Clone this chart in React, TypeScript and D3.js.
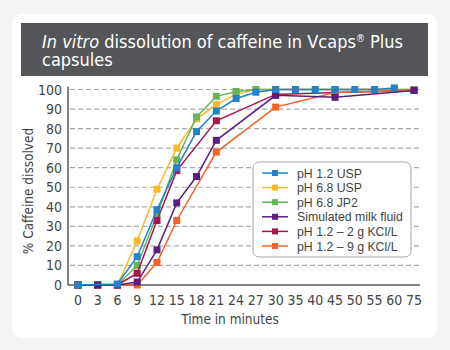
import React, { useEffect, useRef } from "react";
import * as d3 from "d3";

// x categories (time in minutes) and y ticks
const timeLabels = ["0", "3", "6", "9", "12", "15", "18", "21", "24", "27", "30", "35", "40", "45", "50", "55", "60", "75"];
const yTicks = [0, 10, 20, 30, 40, 50, 60, 70, 80, 90, 100];

const seriesNames = ["pH 1.2 USP", "pH 6.8 USP", "pH 6.8 JP2", "Simulated milk fluid", "pH 1.2 – 2 g KCl/L", "pH 1.2 – 9 g KCl/L"];
const seriesColors = ["#2382cc", "#fdb827", "#64b65a", "#5a1e82", "#a6154c", "#f26326"];

// [time, % dissolved]
const ph12Usp: [string, number][] = [["0", 0], ["6", 0.5], ["9", 14.5], ["12", 38.5], ["15", 60], ["18", 78.5], ["21", 89], ["24", 95.4], ["27", 98.6], ["30", 100], ["35", 100], ["40", 100], ["45", 100], ["50", 100], ["55", 100], ["60", 100.8]];
const ph68Usp: [string, number][] = [["0", 0], ["3", 0], ["6", 0], ["9", 22.5], ["12", 49], ["15", 70], ["18", 85], ["21", 92.3], ["24", 97.5], ["27", 100], ["30", 100], ["45", 100], ["60", 100], ["75", 100]];
const ph68Jp2: [string, number][] = [["0", 0], ["3", 0], ["6", 0], ["9", 10], ["12", 36], ["15", 64], ["18", 86], ["21", 96.5], ["24", 99], ["27", 100], ["30", 100], ["45", 100], ["60", 100], ["75", 100]];
const milkFluid: [string, number][] = [["0", 0], ["3", 0], ["6", 0], ["9", 1.5], ["12", 18], ["15", 42], ["18", 55.5], ["21", 74], ["30", 97], ["45", 96], ["75", 99.5]];
const kcl2: [string, number][] = [["0", 0], ["3", 0], ["6", 0], ["9", 6], ["12", 33], ["15", 58.5], ["21", 84], ["30", 97.5], ["45", 98.5], ["75", 99.5]];
const kcl9: [string, number][] = [["0", 0], ["3", 0], ["6", 0], ["9", 0], ["12", 11.5], ["15", 33], ["21", 68], ["30", 91], ["45", 98.5], ["75", 99.5]];

const seriesData = [ph12Usp, ph68Usp, ph68Jp2, milkFluid, kcl2, kcl9];
// draw order so the right markers end up on top
const drawOrder = [1, 2, 4, 5, 3, 0];

const condensed = "'Liberation Sans Narrow', 'DejaVu Sans Condensed', 'Roboto', sans-serif";

const App = () => {
  const ref = useRef<SVGSVGElement>(null);

  useEffect(() => {
    const svg = d3.select(ref.current);
    svg.selectAll("*").remove();

    const left = 68, right = 420, top = 89.5, bottom = 285;

    // background + card + banner
    svg.append("rect").attr("width", 450).attr("height", 350).attr("fill", "#f4f4f4");
    svg.append("rect").attr("x", 12).attr("y", 14).attr("width", 425).attr("height", 324)
      .attr("rx", 10).attr("fill", "#ffffff");
    svg.append("rect").attr("x", 21).attr("y", 23).attr("width", 407).attr("height", 53)
      .attr("fill", "#54565a");

    const title = svg.append("text").attr("x", 42).attr("y", 48)
      .attr("fill", "#ffffff").style("font-family", condensed).style("font-size", "18px");
    title.append("tspan").style("font-style", "italic").text("In vitro");
    title.append("tspan").text(" dissolution of caffeine in Vcaps");
    title.append("tspan").attr("dy", -6).style("font-size", "10px").text("®");
    title.append("tspan").attr("dy", 6).text(" Plus");
    svg.append("text").attr("x", 42).attr("y", 66).attr("fill", "#ffffff")
      .style("font-family", condensed).style("font-size", "18px").text("capsules");

    const x = d3.scalePoint().domain(timeLabels).range([left, 424]).padding(0.5);
    const y = d3.scaleLinear().domain([0, 100]).range([bottom, top]);

    // gridlines
    svg.selectAll(".grid")
      .data(yTicks.filter((d) => d > 0))
      .enter()
      .append("line")
      .attr("x1", left + 2).attr("x2", right)
      .attr("y1", (d) => y(d)).attr("y2", (d) => y(d))
      .attr("stroke", "#a9a9a9").attr("stroke-width", 1.2).attr("stroke-dasharray", "5,3");

    // axes
    svg.append("line").attr("x1", left).attr("x2", left).attr("y1", top - 3).attr("y2", bottom)
      .attr("stroke", "#58595b").attr("stroke-width", 1.5);
    svg.append("line").attr("x1", left).attr("x2", right).attr("y1", bottom).attr("y2", bottom)
      .attr("stroke", "#58595b").attr("stroke-width", 1.5);

    svg.selectAll(".ytick")
      .data(yTicks)
      .enter()
      .append("text")
      .attr("x", left - 6).attr("y", (d) => y(d) + 5)
      .attr("text-anchor", "end")
      .style("font-family", condensed).style("font-size", "14px").style("fill", "#444")
      .text((d) => d);

    svg.selectAll(".xtick")
      .data(timeLabels)
      .enter()
      .append("text")
      .attr("x", (d) => x(d)!).attr("y", 305)
      .attr("text-anchor", "middle")
      .style("font-family", condensed).style("font-size", "14px").style("fill", "#444")
      .text((d) => d);

    svg.append("text").attr("x", 230).attr("y", 324).attr("text-anchor", "middle")
      .style("font-family", condensed).style("font-size", "13.5px").style("fill", "#444")
      .text("Time in minutes");
    svg.append("text").attr("transform", "translate(33,191) rotate(-90)").attr("text-anchor", "middle")
      .style("font-family", condensed).style("font-size", "13.5px").style("fill", "#444")
      .text("% Caffeine dissolved");

    // series
    const line = d3.line<[string, number]>().x((d) => x(d[0])!).y((d) => y(d[1]));
    drawOrder.forEach((i) => {
      const g = svg.append("g");
      g.append("path").datum(seriesData[i]).attr("d", line)
        .attr("fill", "none").attr("stroke", seriesColors[i]).attr("stroke-width", 1.5);
      g.selectAll("rect")
        .data(seriesData[i])
        .enter()
        .append("rect")
        .attr("x", (d) => x(d[0])! - 3.5).attr("y", (d) => y(d[1]) - 3.5)
        .attr("width", 7).attr("height", 7)
        .attr("fill", seriesColors[i]);
    });

    // legend
    const lg = svg.append("g");
    lg.append("rect").attr("x", 253).attr("y", 162).attr("width", 158).attr("height", 95)
      .attr("rx", 6).attr("fill", "#ffffff").attr("stroke", "#a8a8a8").attr("stroke-width", 1);
    seriesNames.forEach((name, i) => {
      const ly = 173 + i * 14.6;
      lg.append("line").attr("x1", 262).attr("x2", 288).attr("y1", ly).attr("y2", ly)
        .attr("stroke", seriesColors[i]).attr("stroke-width", 1.5);
      lg.append("rect").attr("x", 272).attr("y", ly - 3).attr("width", 6).attr("height", 6)
        .attr("fill", seriesColors[i]);
      lg.append("text").attr("x", 297).attr("y", ly + 4.5)
        .style("font-family", "'Liberation Sans', Arial, sans-serif").style("font-size", "12.3px").style("fill", "#444")
        .text(name);
    });
  }, []);

  return (
    <div style={{ position: "absolute", left: 0, top: 0 }}>
      <svg ref={ref} width={450} height={350}></svg>
    </div>
  );
};

export default App;
